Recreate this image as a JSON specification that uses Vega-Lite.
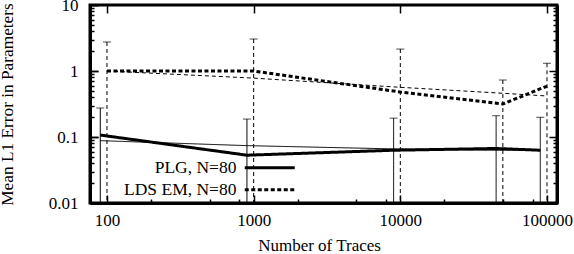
{
  "$schema": "https://vega.github.io/schema/vega-lite/v6.json",
  "width": 467,
  "height": 198,
  "autosize": "none",
  "padding": {"left": 90, "top": 5, "right": 17, "bottom": 51},
  "background": "white",
  "config": {
    "view": {"stroke": "black", "strokeWidth": 3},
    "axis": {
      "labelFont": "Liberation Serif",
      "labelFontSize": 17,
      "labelColor": "black",
      "titleFont": "Liberation Serif",
      "titleFontSize": 17,
      "titleFontWeight": "normal",
      "titleColor": "black",
      "domainColor": "black",
      "domainWidth": 3,
      "tickColor": "black",
      "tickWidth": 1.5,
      "grid": true,
      "gridColor": "black",
      "gridOpacity": 1,
      "gridWidth": 1.5
    },
    "legend": {
      "orient": "none",
      "legendX": 171,
      "legendY": 154,
      "padding": 0,
      "labelFont": "Liberation Serif",
      "labelFontSize": 17.5,
      "labelColor": "black",
      "labelAlign": "right",
      "labelOffset": -42,
      "symbolType": "M-25,0H25",
      "symbolSize": 4,
      "symbolStrokeWidth": 3,
      "symbolStrokeColor": "black",
      "rowPadding": 3
    }
  },
  "data": {
    "values": [
      {"series": "PLG, N=80", "traces": 90, "mean": 0.107, "thin": 0.088, "hi": 0.275, "lo": 0.0101},
      {"series": "PLG, N=80", "traces": 900, "mean": 0.053, "thin": 0.074, "hi": 0.187, "lo": 0.0101},
      {"series": "PLG, N=80", "traces": 9000, "mean": 0.063, "thin": 0.066, "hi": 0.193, "lo": 0.0101},
      {"series": "PLG, N=80", "traces": 45000, "mean": 0.067, "thin": 0.063, "hi": 0.21, "lo": 0.0101},
      {"series": "PLG, N=80", "traces": 90000, "mean": 0.063, "thin": 0.064, "hi": 0.199, "lo": 0.0101},
      {"series": "LDS EM, N=80", "traces": 100, "mean": 1.0, "thin": 1.0, "hi": 2.75, "lo": 0.0101},
      {"series": "LDS EM, N=80", "traces": 1000, "mean": 1.0, "thin": 0.78, "hi": 3.05, "lo": 0.0101},
      {"series": "LDS EM, N=80", "traces": 10000, "mean": 0.48, "thin": 0.566, "hi": 2.15, "lo": 0.0101},
      {"series": "LDS EM, N=80", "traces": 50000, "mean": 0.316, "thin": 0.46, "hi": 0.73, "lo": 0.0101},
      {"series": "LDS EM, N=80", "traces": 100000, "mean": 0.59, "thin": 0.418, "hi": 1.31, "lo": 0.0101}
    ]
  },
  "layer": [
    {
      "mark": {"type": "line", "color": "black", "strokeWidth": 1},
      "encoding": {
        "x": {
          "field": "traces",
          "type": "quantitative",
          "scale": {"type": "log", "domain": [76.6, 117000], "nice": false},
          "axis": {
            "orient": "bottom",
            "values": [100, 1000, 10000, 100000],
            "format": "~g",
            "tickSize": -8,
            "gridDash": [8, 2000],
            "labelPadding": 17.5,
            "title": "Number of Traces",
            "titleX": 229,
            "titleY": 42,
            "titleBaseline": "middle",
            "titleAlign": "center"
          }
        },
        "y": {
          "field": "thin",
          "type": "quantitative",
          "scale": {"type": "log", "domain": [0.01, 10], "nice": false},
          "axis": {
            "orient": "left",
            "values": [0.01, 0.1, 1, 10],
            "format": "~g",
            "tickSize": -8,
            "gridDash": [8, 2000],
            "labelPadding": 20,
            "title": "Mean L1 Error in Parameters",
            "titleAngle": -90,
            "titleX": -83,
            "titleY": 99,
            "titleBaseline": "middle",
            "titleAlign": "center",
            "titleFontSize": 17.3
          }
        },
        "detail": {"field": "series"},
        "strokeDash": {
          "field": "series",
          "type": "nominal",
          "scale": {"domain": ["PLG, N=80", "LDS EM, N=80"], "range": [[1, 0], [4, 3]]},
          "legend": null
        }
      }
    },
    {
      "mark": {"type": "rule", "color": "black", "strokeWidth": 1},
      "encoding": {
        "x": {
          "field": "traces",
          "type": "quantitative",
          "scale": {"type": "log", "domain": [76.6, 117000], "nice": false},
          "axis": {
            "orient": "bottom",
            "values": [200, 500, 800, 2000, 5000, 8000, 20000, 50000, 80000],
            "labels": false,
            "title": null,
            "tickSize": -4,
            "gridDash": [4, 2000]
          }
        },
        "y": {
          "field": "hi",
          "type": "quantitative",
          "scale": {"type": "log", "domain": [0.01, 10], "nice": false},
          "axis": {
            "orient": "left",
            "values": [0.02, 0.03, 0.04, 0.05, 0.06, 0.07, 0.08, 0.09, 0.2, 0.3, 0.4, 0.5, 0.6, 0.7, 0.8, 0.9, 2, 3, 4, 5, 6, 7, 8, 9],
            "labels": false,
            "title": null,
            "tickSize": -4,
            "gridDash": [4, 2000]
          }
        },
        "y2": {"field": "lo"},
        "strokeDash": {
          "field": "series",
          "type": "nominal",
          "scale": {"domain": ["PLG, N=80", "LDS EM, N=80"], "range": [[1, 0], [4, 3]]},
          "legend": null
        }
      }
    },
    {
      "mark": {"type": "tick", "orient": "horizontal", "color": "black", "thickness": 1, "size": 8},
      "encoding": {
        "x": {
          "field": "traces",
          "type": "quantitative",
          "scale": {"type": "log", "domain": [76.6, 117000], "nice": false},
          "axis": null
        },
        "y": {
          "field": "hi",
          "type": "quantitative",
          "scale": {"type": "log", "domain": [0.01, 10], "nice": false},
          "axis": {
            "orient": "right",
            "values": [0.01, 0.1, 1, 10],
            "labels": false,
            "title": null,
            "tickSize": -8,
            "gridDash": [8, 2000]
          }
        }
      }
    },
    {
      "mark": {"type": "line", "color": "black", "strokeWidth": 3},
      "encoding": {
        "x": {
          "field": "traces",
          "type": "quantitative",
          "scale": {"type": "log", "domain": [76.6, 117000], "nice": false},
          "axis": null
        },
        "y": {
          "field": "mean",
          "type": "quantitative",
          "scale": {"type": "log", "domain": [0.01, 10], "nice": false},
          "axis": {
            "orient": "right",
            "values": [0.02, 0.03, 0.04, 0.05, 0.06, 0.07, 0.08, 0.09, 0.2, 0.3, 0.4, 0.5, 0.6, 0.7, 0.8, 0.9, 2, 3, 4, 5, 6, 7, 8, 9],
            "labels": false,
            "title": null,
            "tickSize": -4,
            "gridDash": [4, 2000]
          }
        },
        "detail": {"field": "series"},
        "strokeDash": {
          "field": "series",
          "type": "nominal",
          "scale": {"domain": ["PLG, N=80", "LDS EM, N=80"], "range": [[1, 0], [4, 2.5]]},
          "legend": {"title": null}
        }
      }
    }
  ],
  "resolve": {
    "axis": {"x": "independent", "y": "independent"},
    "scale": {"strokeDash": "independent"},
    "legend": {"strokeDash": "independent"}
  }
}
